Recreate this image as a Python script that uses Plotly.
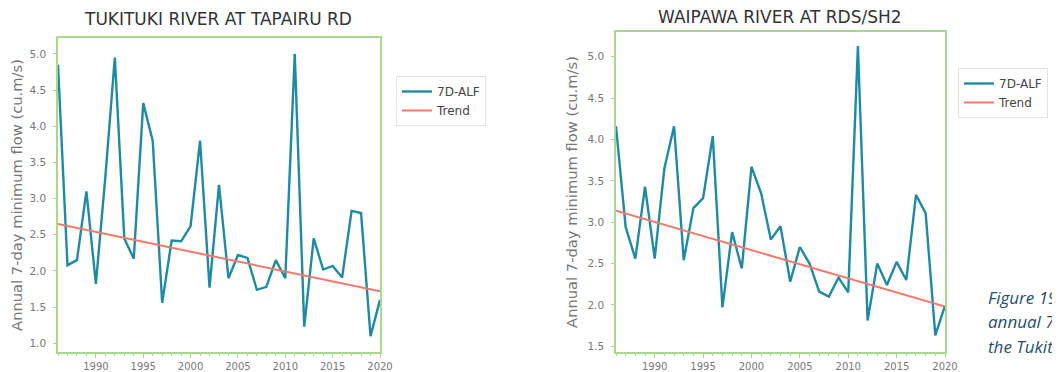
import plotly.graph_objects as go

years = list(range(1986, 2021))

tukituki_alf = [4.85, 2.08, 2.15, 3.10, 1.82, 3.30, 4.95, 2.45, 2.17, 4.32,
                3.80, 1.56, 2.42, 2.41, 2.62, 3.80, 1.77, 3.19, 1.90, 2.22,
                2.18, 1.74, 1.78, 2.15, 1.90, 5.00, 1.23, 2.45, 2.02, 2.07,
                1.91, 2.83, 2.80, 1.10, 1.60]
tukituki_trend = [2.65, 1.72]  # at 1986 and 2020

waipawa_alf = [4.16, 2.94, 2.56, 3.43, 2.56, 3.65, 4.16, 2.54, 3.17, 3.29,
               4.04, 1.97, 2.88, 2.44, 3.67, 3.35, 2.79, 2.95, 2.28, 2.70,
               2.50, 2.16, 2.10, 2.33, 2.15, 5.13, 1.81, 2.50, 2.24, 2.52,
               2.30, 3.33, 3.11, 1.63, 1.99]
waipawa_trend = [3.14, 1.98]

trend_years = [1986, 2020]
x_ticks = [1990, 1995, 2000, 2005, 2010, 2015, 2020]
left_yticks = [1.0, 1.5, 2.0, 2.5, 3.0, 3.5, 4.0, 4.5, 5.0]
right_yticks = [1.5, 2.0, 2.5, 3.0, 3.5, 4.0, 4.5, 5.0]

titles = ["TUKITUKI RIVER AT TAPAIRU RD", "WAIPAWA RIVER AT RDS/SH2"]
y_title = "Annual 7-day minimum flow (cu.m/s)"
caption = ["Figure 19: Trends in mean", "annual 7-day low flows in", "the Tukituki catchment"]

# page body has an 8px default margin
OFFX, OFFY = 8, 8
W, H = 1060, 372 - OFFY
ALF_COL = "#1f8aa3"
TREND_COL = "#f07a6c"
GREEN = "#a9d98f"
TICK_COL = "#777777"
FONT = "DejaVu Sans"


def px_x(p):
    return (p - OFFX) / W


def px_y(p):
    return (H - (p - OFFY)) / H


fig = go.Figure()
fig.add_trace(go.Scatter(x=years, y=tukituki_alf, mode="lines", name="7D-ALF",
                         line=dict(color=ALF_COL, width=2.4), xaxis="x", yaxis="y", legend="legend"))
fig.add_trace(go.Scatter(x=trend_years, y=tukituki_trend, mode="lines", name="Trend",
                         line=dict(color=TREND_COL, width=2), xaxis="x", yaxis="y", legend="legend"))
fig.add_trace(go.Scatter(x=years, y=waipawa_alf, mode="lines", name="7D-ALF",
                         line=dict(color=ALF_COL, width=2.4), xaxis="x2", yaxis="y2", legend="legend2"))
fig.add_trace(go.Scatter(x=trend_years, y=waipawa_trend, mode="lines", name="Trend",
                         line=dict(color=TREND_COL, width=2), xaxis="x2", yaxis="y2", legend="legend2"))

xcommon = dict(range=[1986, 2020], tickvals=x_ticks, showline=True, mirror=True,
               linecolor=GREEN, linewidth=1.5, showgrid=False, zeroline=False,
               ticks="outside", ticklen=4, tickcolor=GREEN, ticklabelstandoff=0,
               automargin=False,
               minor=dict(ticks="outside", dtick=1, ticklen=2, tickcolor=GREEN),
               tickfont=dict(family=FONT, size=10, color=TICK_COL))
ycommon = dict(showline=True, mirror=True, linecolor=GREEN, linewidth=1.5,
               showgrid=False, zeroline=False, ticks="outside", ticklen=3,
               tickcolor=GREEN, tickformat=".1f", ticklabelstandoff=5,
               automargin=False,
               tickfont=dict(family=FONT, size=10.5, color=TICK_COL),
               title=dict(text=y_title, font=dict(family=FONT, size=14.7, color=TICK_COL), standoff=6))

legend_common = dict(xanchor="left", yanchor="top", bgcolor="white",
                     bordercolor="#e2e2e2", borderwidth=1, itemwidth=30,
                     font=dict(family=FONT, size=12, color="#444444"))

fig.update_layout(
    width=W, height=H, margin=dict(l=0, r=0, t=0, b=0, autoexpand=False),
    paper_bgcolor="white", plot_bgcolor="white",
    xaxis=dict(domain=[px_x(58), px_x(380)], anchor="y", **xcommon),
    yaxis=dict(domain=[px_y(352), px_y(38)], anchor="x", range=[0.88, 5.22],
               tickvals=left_yticks, **ycommon),
    xaxis2=dict(domain=[px_x(616), px_x(945)], anchor="y2", **xcommon),
    yaxis2=dict(domain=[px_y(352), px_y(32)], anchor="x2", range=[1.43, 5.30],
                tickvals=right_yticks, **ycommon),
    legend=dict(x=px_x(396), y=px_y(76), **legend_common),
    legend2=dict(x=px_x(958), y=px_y(68), **legend_common),
    showlegend=True,
)

annotations = [
    dict(text=titles[0], x=px_x(218), y=px_y(19), xref="paper", yref="paper",
         xanchor="center", yanchor="middle",
         showarrow=False, font=dict(family=FONT, size=17, color="#333333")),
    dict(text=titles[1], x=px_x(780), y=px_y(17), xref="paper", yref="paper",
         xanchor="center", yanchor="middle",
         showarrow=False, font=dict(family=FONT, size=17, color="#333333")),
]
for i, line in enumerate(caption):
    annotations.append(dict(text="<i>" + line + "</i>", x=px_x(986), y=px_y(297 + 24.5 * i),
                            xref="paper", yref="paper", xanchor="left", yanchor="middle",
                            showarrow=False,
                            font=dict(family="Open Sans", size=17, color="#1f4f6b")))
fig.update_layout(annotations=annotations)

fig.write_html("out.html")
